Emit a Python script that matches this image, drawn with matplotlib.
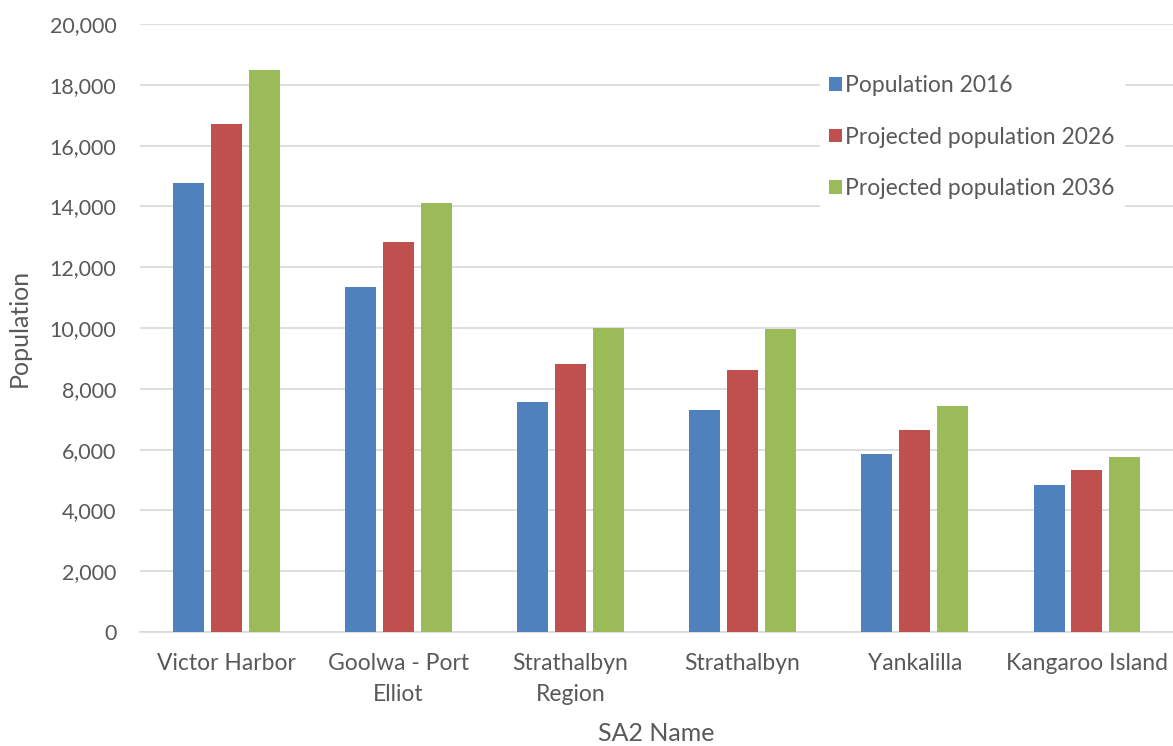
import numpy as np
import matplotlib.pyplot as plt
from matplotlib.ticker import FuncFormatter

regions = ['Victor Harbor', 'Goolwa - Port\nElliot', 'Strathalbyn\nRegion',
           'Strathalbyn', 'Yankalilla', 'Kangaroo Island']
pop_2016 = [14760, 11360, 7560, 7300, 5850, 4830]
proj_2026 = [16710, 12820, 8810, 8620, 6630, 5320]
proj_2036 = [18480, 14100, 9990, 9960, 7430, 5750]

series = [
    ('Population 2016', pop_2016, '#4F81BD'),
    ('Projected population 2026', proj_2026, '#C0504D'),
    ('Projected population 2036', proj_2036, '#9BBB59'),
]

plt.rcParams['font.family'] = ['Lato', 'DejaVu Sans']
text_col = '#595959'

fig = plt.figure(figsize=(11.73, 7.46), dpi=100)
ax = fig.add_axes([0.1194, 0.1528, 0.8806, 0.815])

x = np.arange(len(regions))
width = 0.18
step = 0.22
for i, (name, vals, col) in enumerate(series):
    ax.bar(x + (i - 1) * step, vals, width, color=col, label=name, zorder=3)

ax.set_xlim(-0.5, len(regions) - 0.5)
ax.set_ylim(0, 20000)
ax.set_yticks(np.arange(0, 20001, 2000))
ax.yaxis.set_major_formatter(FuncFormatter(lambda v, p: f'{int(v):,}'))
ax.set_xticks(x)
ax.set_xticklabels(regions, fontsize=16.5, linespacing=1.6)

ax.grid(axis='y', color='#d9d9d9', linewidth=1.2, zorder=0)
for s in ['top', 'right', 'left']:
    ax.spines[s].set_visible(False)
ax.spines['bottom'].set_color('#d9d9d9')
ax.spines['bottom'].set_linewidth(1.2)
ax.tick_params(axis='both', length=0, labelcolor=text_col)
ax.tick_params(axis='y', labelsize=15.5, pad=17)
ax.tick_params(axis='x', pad=15)

ax.set_xlabel('SA2 Name', fontsize=18, color=text_col, labelpad=12)
ax.set_ylabel('Population', fontsize=18, color=text_col, labelpad=13.5)

leg = ax.legend(loc='upper left', bbox_to_anchor=(820 / 1173, 1 - 66 / 746),
                bbox_transform=fig.transFigure, frameon=True,
                fontsize=16.5, labelspacing=1.33, handlelength=0.55, handleheight=0.55,
                handletextpad=0.15, borderpad=0.4, borderaxespad=0)
leg.get_frame().set_facecolor('white')
leg.get_frame().set_edgecolor('white')
leg.get_frame().set_alpha(1)
leg.set_zorder(5)
for t in leg.get_texts():
    t.set_color(text_col)

fig.savefig('out.png', dpi=100)
